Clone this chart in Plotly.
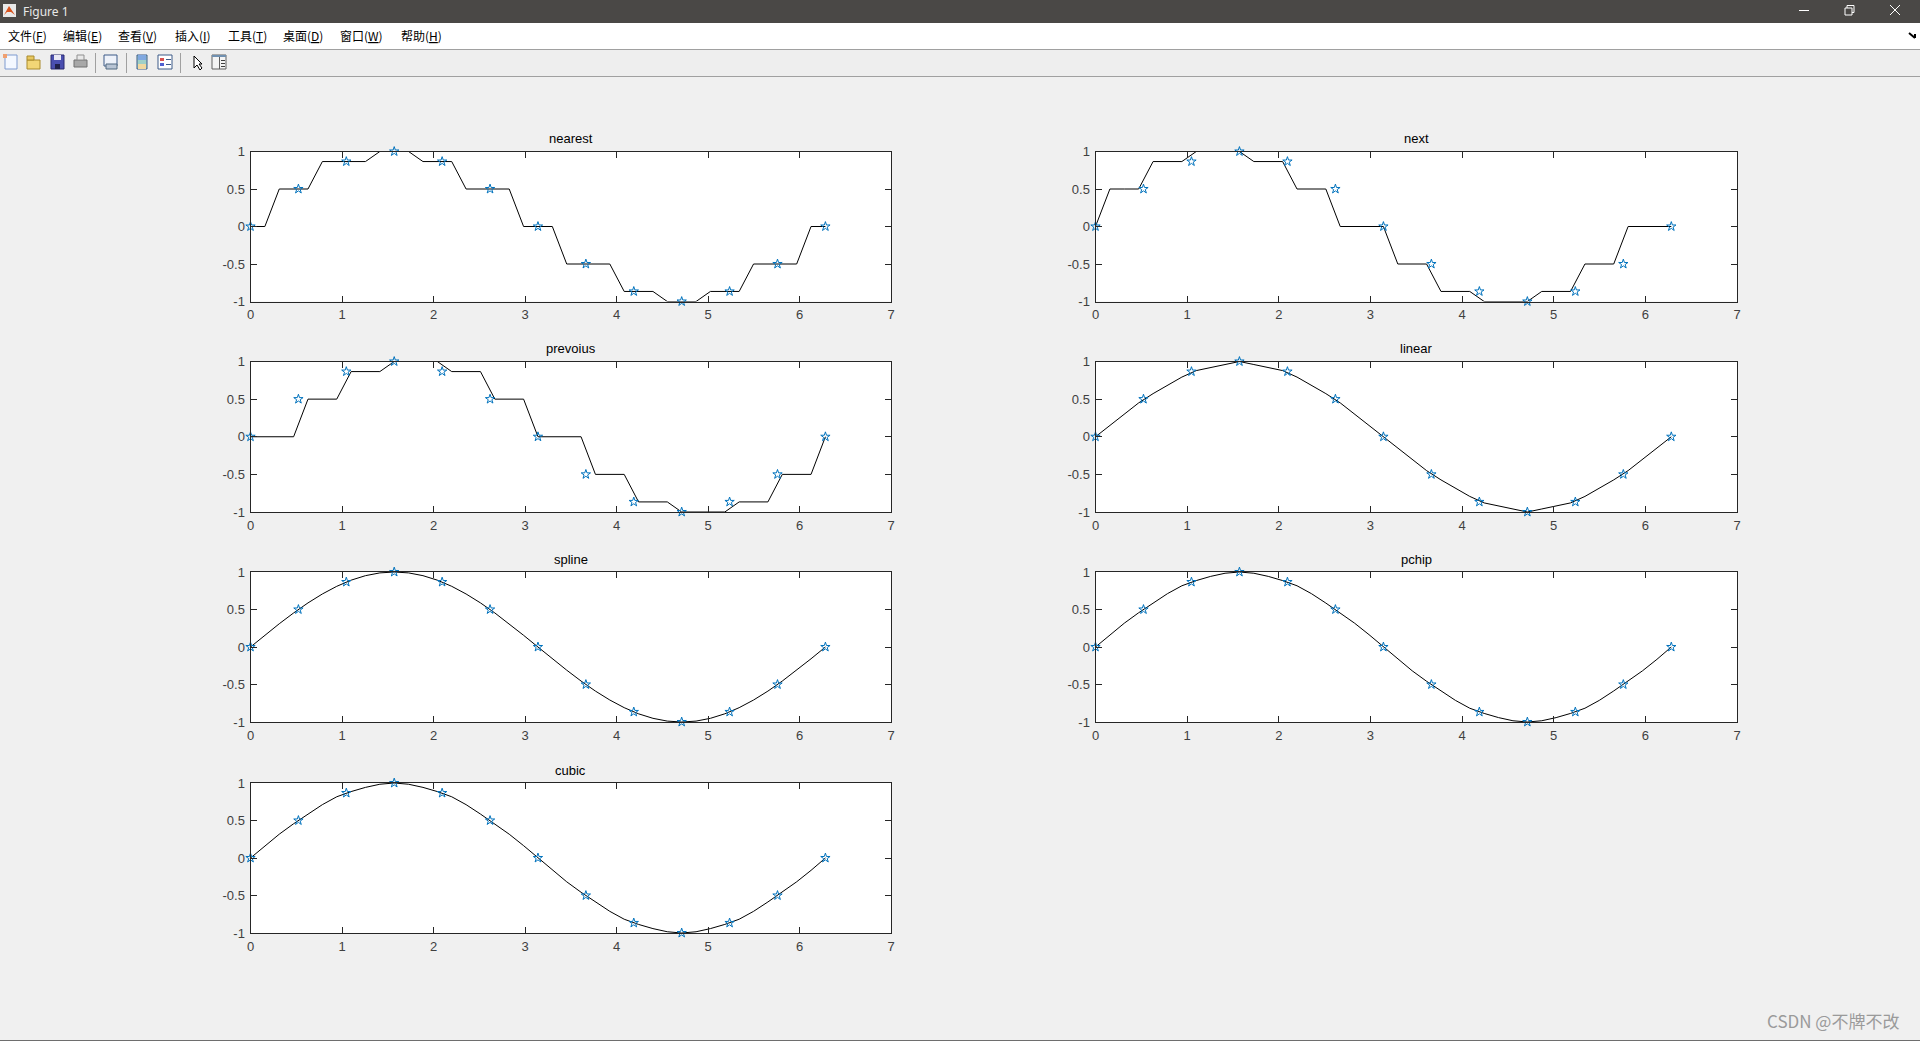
import plotly.graph_objects as go

W, H = 1920, 1041
titles = ["nearest", "next", "prevoius", "linear", "spline", "pchip", "cubic"]
x_sample = [0, 0.5236, 1.0472, 1.5708, 2.0944, 2.618, 3.1416, 3.6652, 4.1888, 4.7124, 5.236, 5.7596, 6.2832]
y_sample = [0, 0.5, 0.866, 1, 0.866, 0.5, 0, -0.5, -0.866, -1, -0.866, -0.5, 0]
x_query = [0, 0.1571, 0.3142, 0.4712, 0.6283, 0.7854, 0.9425, 1.0996, 1.2566, 1.4137, 1.5708, 1.7279, 1.885, 2.042,
           2.1991, 2.3562, 2.5133, 2.6704, 2.8274, 2.9845, 3.1416, 3.2987, 3.4558, 3.6128, 3.7699, 3.927, 4.0841,
           4.2412, 4.3982, 4.5553, 4.7124, 4.8695, 5.0265, 5.1836, 5.3407, 5.4978, 5.6549, 5.8119, 5.969, 6.1261, 6.2832]
y_nearest = [0, 0, .5, .5, .5, .866, .866, .866, .866, 1, 1, 1, .866, .866, .866, .5, .5, .5, .5, 0, 0, 0,
             -.5, -.5, -.5, -.5, -.866, -.866, -.866, -1, -1, -1, -.866, -.866, -.866, -.5, -.5, -.5, -.5, 0, 0]
y_next = [0, .5, .5, .5, .866, .866, .866, 1, 1, 1, 1, .866, .866, .866, .5, .5, .5, 0, 0, 0, 0,
          -.5, -.5, -.5, -.866, -.866, -.866, -1, -1, -1, -1, -.866, -.866, -.866, -.5, -.5, -.5, 0, 0, 0, 0]
y_previous = [0, 0, 0, 0, .5, .5, .5, .866, .866, .866, 1, 1, 1, 1, .866, .866, .866, .5, .5, .5, 0, 0, 0, 0,
              -.5, -.5, -.5, -.866, -.866, -.866, -1, -1, -1, -1, -.866, -.866, -.866, -.5, -.5, -.5, 0]
y_linear = [0, .15, .3, .45, .5732, .683, .7928, .8794, .9196, .9598, 1, .9598, .9196, .8794, .7928, .683, .5732,
            .45, .3, .15, 0, -.15, -.3, -.45, -.5732, -.683, -.7928, -.8794, -.9196, -.9598, -1, -.9598, -.9196,
            -.8794, -.7928, -.683, -.5732, -.45, -.3, -.15, 0]
y_spline = [0, .157, .31, .454, .588, .707, .809, .891, .951, .988, 1, .988, .951, .891, .809, .707, .588, .454,
            .309, .156, 0, -.156, -.309, -.454, -.588, -.707, -.809, -.891, -.951, -.988, -1, -.988, -.951, -.891,
            -.809, -.707, -.588, -.454, -.31, -.157, 0]
y_pchip = [0, .1647, .3175, .4569, .5859, .7113, .8163, .8857, .9414, .9835, 1, .9835, .9414, .8857, .8163, .7113,
           .5859, .4569, .3175, .1647, 0, -.1647, -.3175, -.4569, -.5859, -.7113, -.8163, -.8857, -.9414, -.9835,
           -1, -.9835, -.9414, -.8857, -.8163, -.7113, -.5859, -.4569, -.3175, -.1647, 0]
y_cubic = [0, .1647, .3175, .4569, .5859, .7113, .8163, .8857, .9414, .9835, 1, .9835, .9414, .8857, .8163, .7113,
           .5859, .4569, .3175, .1647, 0, -.1647, -.3175, -.4569, -.5859, -.7113, -.8163, -.8857, -.9414, -.9835,
           -1, -.9835, -.9414, -.8857, -.8163, -.7113, -.5859, -.4569, -.3175, -.1647, 0]
series = [y_nearest, y_next, y_previous, y_linear, y_spline, y_pchip, y_cubic]
x_ticks = [0, 1, 2, 3, 4, 5, 6, 7]
y_ticks = [-1, -0.5, 0, 0.5, 1]
y_ticklabels = ["-1", "-0.5", "0", "0.5", "1"]
menu_items = ["文件(<u>F</u>)", "编辑(<u>E</u>)", "查看(<u>V</u>)", "插入(<u>I</u>)", "工具(<u>T</u>)", "桌面(<u>D</u>)", "窗口(<u>W</u>)", "帮助(<u>H</u>)"]
menu_x = [8, 63, 118, 175, 228, 283, 340, 401]

col_px = [(250.5, 891), (1095.5, 1737)]
row_px = [(151.5, 301.5), (361.5, 512), (572, 722), (783, 933)]
INK = "#262626"
FONT = "Liberation Sans, Arial, sans-serif"

fig = go.Figure()
layout = {}
annotations = []
shapes = []


def rect(x0, y0, x1, y1, fill, line=None, lw=1):
    shapes.append(dict(type="rect", xref="paper", yref="paper", x0=x0 / W, x1=x1 / W, y0=1 - y0 / H, y1=1 - y1 / H,
                       fillcolor=fill, line=dict(color=line or fill, width=lw if line else 0), layer="below"))


def seg(x0, y0, x1, y1, color, lw=1):
    shapes.append(dict(type="line", xref="paper", yref="paper", x0=x0 / W, x1=x1 / W, y0=1 - y0 / H, y1=1 - y1 / H,
                       line=dict(color=color, width=lw), layer="below"))


def label(x, y, text, size, color, family=FONT, anchor="left"):
    annotations.append(dict(xref="paper", yref="paper", x=x / W, y=1 - y / H, text=text, showarrow=False,
                            xanchor=anchor, yanchor="middle", font=dict(size=size, color=color, family=family),
                            borderpad=0, borderwidth=0))


# window chrome
rect(0, 0, W, 23, "#4a4846")
rect(0, 23, W, 49, "#ffffff")
rect(0, 49, W, 50, "#a0a0a0")
rect(0, 50, W, 76, "#eeeeee")
rect(0, 76, W, 77, "#a0a0a0")
rect(0, 1040, W, 1041, "#6e6e6e")
rect(3, 4, 16, 17, "#e8e8e8")
shapes.append(dict(type="path", xref="paper", yref="paper", layer="below", fillcolor="#d9531e", line=dict(width=0),
                   path=f"M {4/W} {1-15/H} L {9/W} {1-6/H} L {15/W} {1-15/H} L {11/W} {1-12/H} L {7/W} {1-12/H} Z"))
label(23, 12, "Figure 1", 12, "#e8e8e8", "Noto Sans, sans-serif")
seg(1799, 10.5, 1809, 10.5, "#ffffff")
rect(1845, 8, 1852, 15, "#4a4846", "#ffffff")
shapes.append(dict(type="path", xref="paper", yref="paper", layer="below", line=dict(color="#ffffff", width=1),
                   path=f"M {1847/W} {1-8/H} L {1847/W} {1-5.5/H} L {1854/W} {1-5.5/H} L {1854/W} {1-12.5/H} L {1852/W} {1-12.5/H}"))
seg(1890, 5, 1900, 15, "#ffffff")
seg(1900, 5, 1890, 15, "#ffffff")
for name, mx in zip(menu_items, menu_x):
    label(mx, 35, name, 12, "#000000", "Noto Sans CJK SC, sans-serif")
seg(1909, 33, 1915, 38, "#000000", 2)
seg(1915, 34, 1915, 38, "#000000", 2)

# toolbar icons
rect(5, 55, 17, 69, "#f4f8ff", "#7f9bd0")
rect(3, 54, 7, 58, "#f0a070")
rect(27, 60, 40, 69, "#f2d676", "#a98a2c")
rect(27, 56, 34, 60, "#e8c860", "#a98a2c")
rect(51, 55, 64, 69, "#4a4fb0", "#2a2a70")
rect(54, 55, 61, 60, "#e8e8f4")
rect(55, 64, 60, 69, "#20204a")
rect(74, 60, 87, 67, "#a8a8a8", "#707070")
rect(77, 55, 84, 60, "#e8e8e8", "#909090")
seg(95.5, 53, 95.5, 73, "#a0a0a0")
rect(104, 55, 117, 66, "#eef2fa", "#3c5a88")
rect(106, 64, 117, 69, "#b8c4d4", "#506880")
seg(126.5, 53, 126.5, 73, "#a0a0a0")
rect(137, 55, 147, 69, "#9fd0c8", "#3c5a88")
rect(138, 55, 146, 60, "#80a8e0")
rect(138, 64, 146, 69, "#f0d8a0")
rect(158, 55, 172, 69, "#ffffff", "#3c5a88")
rect(160, 58, 164, 61, "#d85050")
rect(160, 63, 164, 66, "#5060d0")
seg(166, 59.5, 171, 59.5, "#3c5a88")
seg(166, 64.5, 171, 64.5, "#3c5a88")
seg(180.5, 53, 180.5, 73, "#a0a0a0")
shapes.append(dict(type="path", xref="paper", yref="paper", layer="below", fillcolor="#ffffff",
                   line=dict(color="#000000", width=1),
                   path=f"M {194/W} {1-56/H} L {194/W} {1-68/H} L {197/W} {1-65/H} L {200/W} {1-70/H} L {202/W} {1-68/H} L {199/W} {1-64/H} L {202/W} {1-64/H} Z"))
rect(212, 55, 226, 69, "#f4f4f4", "#606060")
rect(212, 55, 226, 57, "#7090b0")
seg(219.5, 57, 219.5, 69, "#606060")
for ly in (60.5, 63.5, 66.5):
    seg(221, ly, 225, ly, "#404040")

label(1767, 1020.5, "CSDN @不牌不改", 17, "#9a9a9a", "Noto Sans CJK SC, sans-serif")

# subplots
for i, (name, ys) in enumerate(zip(titles, series)):
    c = i % 2
    r = i // 2
    n = i + 1
    xname, yname = ("xaxis", "yaxis") if n == 1 else (f"xaxis{n}", f"yaxis{n}")
    xref, yref = ("x", "y") if n == 1 else (f"x{n}", f"y{n}")
    l, rr = col_px[c]
    t, b = row_px[r]
    common = dict(showgrid=False, zeroline=False, showline=True, linecolor=INK, linewidth=1, mirror="ticks",
                  ticks="inside", ticklen=6, tickwidth=1, tickcolor=INK, automargin=False,
                  tickfont=dict(family=FONT, size=13, color="#404040"))
    layout[xname] = dict(domain=[l / W, rr / W], range=[0, 7], anchor=yref, tickmode="array", tickvals=x_ticks,
                         ticktext=[str(v) for v in x_ticks], ticklabelstandoff=1, **common)
    layout[yname] = dict(domain=[1 - b / H, 1 - t / H], range=[-1, 1], anchor=xref, tickmode="array",
                         tickvals=y_ticks, ticktext=y_ticklabels, ticklabelstandoff=2, **common)
    fig.add_trace(go.Scatter(x=x_query, y=ys, mode="lines", xaxis=xref, yaxis=yref, cliponaxis=False,
                             line=dict(color="#000000", width=1)))
    fig.add_trace(go.Scatter(x=x_sample, y=y_sample, mode="markers", xaxis=xref, yaxis=yref, cliponaxis=False,
                             marker=dict(symbol="star-open", size=7, color="#0072BD", line=dict(width=1, color="#0072BD"))))
    label((l + rr) / 2, t - 13, name, 13, "#000000", FONT, "center")

fig.update_layout(template="none", width=W, height=H, autosize=False, margin=dict(l=0, r=0, t=0, b=0, pad=0),
                  paper_bgcolor="#f0f0f0", plot_bgcolor="#ffffff", showlegend=False, annotations=annotations,
                  shapes=shapes, font=dict(family=FONT), **layout)
post = """
document.documentElement.style.margin='0';
document.documentElement.style.background='#f0f0f0';
document.body.style.margin='0';
document.body.style.padding='0';
document.body.style.overflow='hidden';
"""
fig.write_html("out.html", post_script=post, config={"displayModeBar": False})
